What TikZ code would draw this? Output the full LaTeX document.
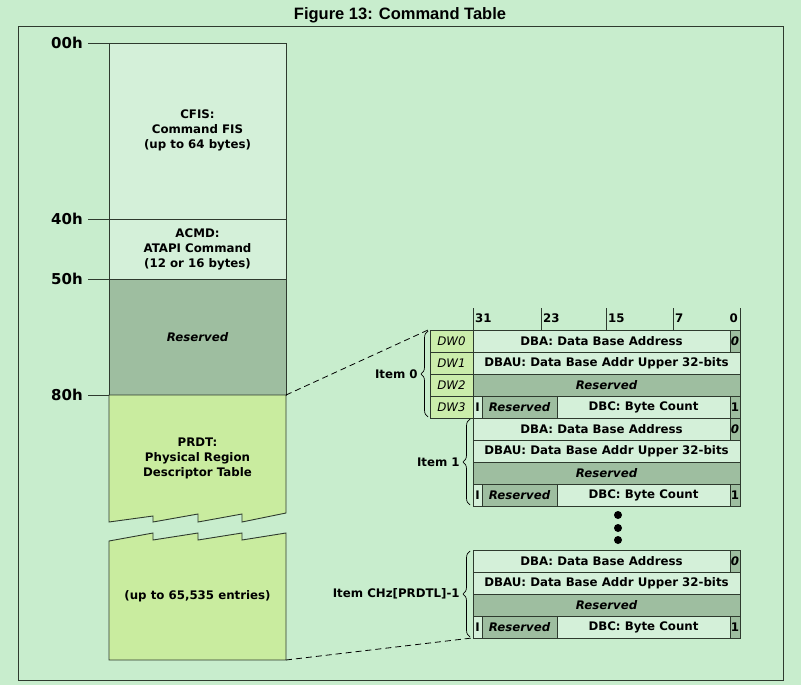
\documentclass[tikz,border=0pt]{standalone}
\usepackage{fontspec}
\setmainfont{DejaVu Sans}
\newfontfamily\titlefont{Liberation Sans}
\usetikzlibrary{decorations.pathreplacing}
\definecolor{bg}{HTML}{C8EDCD}
\definecolor{cell}{HTML}{D4F0D9}
\definecolor{resv}{HTML}{9EBEA0}
\definecolor{grn}{HTML}{C9EC9F}
\definecolor{ln}{HTML}{2E3A2E}
\begin{document}
\begin{tikzpicture}[x=1pt,y=-1pt,
  txt/.style={font=\bfseries\fontsize{11.8}{15}\selectfont,align=center},
  itxt/.style={font=\bfseries\itshape\fontsize{11.8}{15}\selectfont,align=center},
  box/.style={draw=ln,line width=0.9pt},
  brc/.style={decorate,decoration={brace,amplitude=7pt,mirror},line width=0.7pt},
  dsh/.style={dash pattern=on 6pt off 4pt,line width=0.8pt}]
\useasboundingbox (0,0) rectangle (801,685);
\fill[bg] (0,0) rectangle (801,685);
\node[font=\titlefont\bfseries\fontsize{16.5}{19}\selectfont] (title) at (400,15) {Figure 13: Command Table};
\draw[ln,line width=1pt] (18,27) rectangle (783,680);
% left column
\draw[box,fill=cell] (109,43) rectangle (286,219);
\draw[box,fill=cell] (109,219) rectangle (286,279);
\draw[box,fill=resv] (109,279) rectangle (286,395);
\draw[box,fill=grn] (109,395) -- (286,395) -- (286,513) -- (242,522) -- (242,514) -- (198,522) -- (198,514) -- (153,522) -- (153,516) -- (109,522) -- cycle;
\draw[box,fill=grn] (109,541) -- (153,533) -- (153,540) -- (198,533) -- (198,540) -- (242,533) -- (242,540) -- (286,533) -- (286,660) -- (109,660) -- cycle;
\node[txt] (cfis) at (197.5,130) {CFIS:\\Command FIS\\(up to 64 bytes)};
\node[txt] (acmd) at (197.5,249) {ACMD:\\ATAPI Command\\(12 or 16 bytes)};
\node[itxt] (res) at (197.5,337) {Reserved};
\node[txt] (prdt) at (197.5,458) {PRDT:\\Physical Region\\Descriptor Table};
\node[txt] (ent) at (197.5,596) {(up to 65,535 entries)};
\foreach \y/\t in {43/00h,219/40h,279/50h,395/80h}{
  \draw[ln,line width=0.9pt] (88,\y) -- (109,\y);
  \node[anchor=east,font=\bfseries\fontsize{15}{17}\selectfont,inner sep=1pt] at (84,\y) {\t};
}
% header ticks
\foreach \x/\t in {473/31,541/23,606/15,673/7}{
  \draw[ln,line width=0.9pt] (\x,308) -- (\x,330);
  \node[txt,anchor=west,inner sep=2pt] at (\x,318) {\t};
}
\draw[ln,line width=0.9pt] (740,308) -- (740,330);
\node[txt,anchor=east,inner sep=2pt] at (740,318) {0};
% DW labels
\foreach \i/\y in {0/330,1/352,2/374,3/396}{
  \draw[box,fill=grn!80!cell] (430,\y) rectangle (473,\y+22);
  \node[font=\itshape\fontsize{11.8}{14}\selectfont] at (451.5,\y+11) {DW\i};
}
% items
\foreach \top in {330,418,550}{
  \draw[box,fill=cell] (473,\top) rectangle (730,\top+22);
  \draw[box,fill=resv] (730,\top) rectangle (740,\top+22);
  \node[txt] at (601.5,\top+11) {DBA: Data Base Address};
  \node[itxt] at (735,\top+11) {0};
  \draw[box,fill=cell] (473,\top+22) rectangle (740,\top+44);
  \node[txt] at (606.5,\top+33) {DBAU: Data Base Addr Upper 32-bits};
  \draw[box,fill=resv] (473,\top+44) rectangle (740,\top+66);
  \node[itxt] at (606.5,\top+55) {Reserved};
  \draw[box,fill=cell] (473,\top+66) rectangle (482,\top+88);
  \draw[box,fill=resv] (482,\top+66) rectangle (557,\top+88);
  \draw[box,fill=cell] (557,\top+66) rectangle (730,\top+88);
  \draw[box,fill=resv] (730,\top+66) rectangle (740,\top+88);
  \node[txt] at (477.5,\top+77) {I};
  \node[itxt] at (519.5,\top+77) {Reserved};
  \node[txt] at (643.5,\top+77) {DBC: Byte Count};
  \node[txt] at (735,\top+77) {1};
}
% braces
\draw[brc] (428,331) -- (428,417) node[midway,left=9pt,txt,inner sep=1pt] (i0) {Item 0};
\draw[brc] (470,419) -- (470,505) node[midway,left=9pt,txt,inner sep=1pt] (i1) {Item 1};
\draw[brc] (470,551) -- (470,637) node[midway,left=9pt,txt,inner sep=1pt] (in) {Item CHz[PRDTL]-1};
% dots
\foreach \y in {515,528,540} \fill (618,\y) circle (4pt);
% dashed
\draw[dsh] (286,395) -- (428,330);
\draw[dsh] (286,660) -- (472,638);
\end{tikzpicture}
\end{document}
